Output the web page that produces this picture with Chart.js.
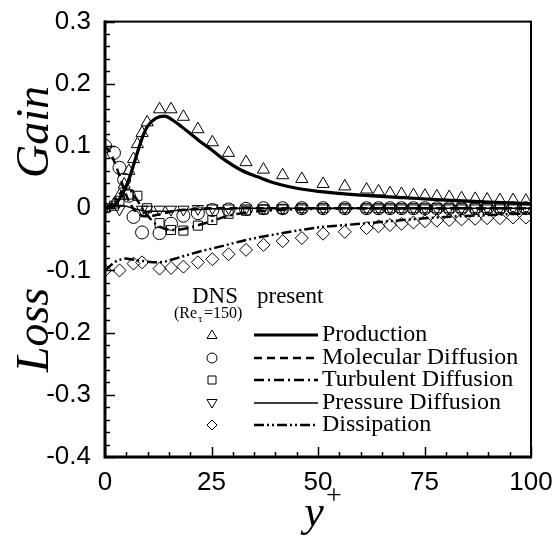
<!DOCTYPE html>
<html>
<head>
<meta charset="utf-8">
<script src="https://cdn.jsdelivr.net/npm/chart.js@4.4.1/dist/chart.umd.min.js"></script>
<style>
  html, body { margin: 0; padding: 0; background: #fff; }
  #wrap { width: 557px; height: 554px; }
</style>
</head>
<body>
<div id="wrap"><canvas id="budgetChart" width="557" height="554"></canvas></div>
<script>
// model curves (present), sampled in y+
const modelYplus = [0, 1, 2, 3, 4, 5, 6, 7, 8, 9, 10, 12, 14, 16, 18, 20, 22, 25, 28, 32, 36, 40, 45, 50, 60, 70, 80, 90, 100];
const productionModel = [0, 0.001, 0.004, 0.011, 0.022, 0.036, 0.054, 0.076, 0.098, 0.118, 0.132, 0.145, 0.148, 0.141, 0.131, 0.12, 0.109, 0.094, 0.078, 0.061, 0.05, 0.04, 0.032, 0.027, 0.021, 0.017, 0.013, 0.01, 0.007];
const molecularModel = [0.1, 0.092, 0.078, 0.06, 0.04, 0.021, 0.006, -0.004, -0.01, -0.013, -0.013, -0.011, -0.008, -0.005, -0.003, -0.002, -0.001, 0, 0, 0, 0, 0, 0, 0, 0, 0, 0, 0, 0];
const turbulentModel = [0, 0.003, 0.01, 0.019, 0.027, 0.031, 0.028, 0.019, 0.008, -0.003, -0.012, -0.026, -0.033, -0.035, -0.034, -0.031, -0.027, -0.021, -0.014, -0.008, -0.005, -0.003, -0.002, -0.001, 0, 0, 0, 0, 0];
const pressureModel = [0, 0.001, 0.003, 0.004, 0.004, 0.003, 0.001, -0.001, -0.003, -0.004, -0.005, -0.005, -0.005, -0.004, -0.003, -0.002, -0.002, -0.001, -0.001, 0, 0, 0, 0, 0, 0, 0, 0, 0, 0];
const dissipationModel = [-0.1, -0.094, -0.088, -0.084, -0.082, -0.081, -0.082, -0.083, -0.084, -0.085, -0.086, -0.087, -0.086, -0.082, -0.078, -0.074, -0.07, -0.065, -0.06, -0.053, -0.047, -0.042, -0.036, -0.031, -0.025, -0.019, -0.014, -0.011, -0.008];

// DNS (Re_tau=150) symbols
const dnsYplus = [0, 1.0, 2.1, 3.4, 4.5, 5.6, 6.7, 7.6, 8.7, 9.9, 12.8, 15.5, 18.4, 21.8, 25.2, 29.0, 33.1, 37.2, 41.7, 46.2, 51.2, 56.3, 61.4, 64.2, 66.9, 69.6, 72.4, 75.1, 77.9, 80.8, 83.7, 86.9, 89.7, 92.7, 95.8, 98.8];
const productionDns = [0, null, 0.006, 0.02, 0.038, 0.06, 0.079, 0.103, 0.121, 0.138, 0.159, 0.159, 0.147, 0.127, 0.106, 0.089, 0.074, 0.062, 0.053, 0.047, 0.039, 0.035, 0.030, 0.027, 0.024, 0.023, 0.021, 0.020, 0.019, 0.018, 0.016, 0.015, 0.014, 0.013, 0.013, 0.012];
const molecularDns = [0.1, null, 0.089, 0.065, 0.046, 0.02, -0.014, null, -0.039, null, -0.04, -0.025, -0.012, -0.008, -0.003, -0.002, -0.001, 0, 0, 0, 0, 0, 0, 0, 0, 0, 0, 0, 0, 0, 0, 0, 0, 0, 0, 0];
const turbulentDns = [0, null, 0.004, 0.012, null, 0.022, null, 0.02, null, 0.0, -0.024, -0.035, -0.036, -0.028, -0.019, -0.009, -0.004, -0.002, -0.001, 0, 0, 0, 0, 0, 0, 0, 0, 0, 0, 0, 0, 0, 0, 0, 0, 0];
const pressureDns = [0, null, null, -0.002, null, null, null, null, -0.002, -0.002, -0.002, -0.002, -0.002, -0.001, 0, 0, 0, 0, 0, 0, 0, 0, 0, 0, 0, 0, 0, 0, 0, 0, 0, 0, 0, 0, 0, 0];
const dissipationDns = [-0.1, null, null, -0.1, null, null, -0.089, null, -0.087, null, -0.097, -0.096, -0.094, -0.087, -0.082, -0.074, -0.067, -0.059, -0.053, -0.048, -0.041, -0.038, -0.032, -0.029, -0.027, -0.025, -0.023, -0.021, -0.020, -0.019, -0.018, -0.017, -0.016, -0.016, -0.015, -0.015];

const seriesNames = ["Production", "Molecular Diffusion", "Turbulent Diffusion", "Pressure Diffusion", "Dissipation"];
const xTicks = [0, 25, 50, 75, 100];
const yTicks = [-0.4, -0.3, -0.2, -0.1, 0, 0.1, 0.2, 0.3];

const serif = "'Liberation Serif', 'Times New Roman', serif";
const sans = "'Liberation Sans', Arial, sans-serif";

function pairs(xs, ys) {
  return xs.map((x, i) => ({ x: x, y: ys[i] })).filter(p => p.y !== null);
}

// line styles and symbols for each term
const lineStyles = [
  { width: 3.2, dash: [] },
  { width: 2.5, dash: [8, 5] },
  { width: 2.5, dash: [10, 4, 2, 4] },
  { width: 1.5, dash: [] },
  { width: 2.5, dash: [10, 3, 2, 3, 2, 3] },
];
const symbols = [
  { style: "triangle", rot: 0, r: 7 },
  { style: "circle", rot: 0, r: 6.5 },
  { style: "rect", rot: 0, r: 6.4 },
  { style: "triangle", rot: 180, r: 6.5 },
  { style: "rectRot", rot: 0, r: 6.5 },
];

const models = [productionModel, molecularModel, turbulentModel, pressureModel, dissipationModel];
const dns = [productionDns, molecularDns, turbulentDns, pressureDns, dissipationDns];

const datasets = [];
models.forEach((vals, i) => {
  datasets.push({
    type: "line",
    label: seriesNames[i],
    data: pairs(modelYplus, vals),
    borderColor: "#000",
    borderWidth: lineStyles[i].width,
    borderDash: lineStyles[i].dash,
    pointRadius: 0,
    cubicInterpolationMode: "monotone",
    fill: false,
  });
});
dns.forEach((vals, i) => {
  datasets.push({
    type: "scatter",
    label: "DNS " + seriesNames[i],
    data: pairs(dnsYplus, vals),
    pointStyle: symbols[i].style,
    rotation: symbols[i].rot,
    pointRadius: symbols[i].r,
    pointBorderColor: "#000",
    pointBackgroundColor: "rgba(0,0,0,0)",
    pointBorderWidth: 1,
    showLine: false,
  });
});

// inward ticks, frame, titles and the legend block
const framePlugin = {
  id: "frame",
  afterDraw(chart) {
    const ctx = chart.ctx;
    const xs = chart.scales.x, ys = chart.scales.y;
    const { left, right, top, bottom } = chart.chartArea;
    ctx.save();
    ctx.strokeStyle = "#000";
    ctx.lineWidth = 1.5;
    ctx.beginPath();
    for (let v = 0; v <= 100; v += 5) {
      const px = Math.round(xs.getPixelForValue(v)) + 0.5;
      const len = v % 25 === 0 ? 10 : 5;
      ctx.moveTo(px, bottom);
      ctx.lineTo(px, bottom - len);
    }
    for (let i = -20; i <= 15; i++) {
      const py = Math.round(ys.getPixelForValue(i * 0.02)) + 0.5;
      const len = i % 5 === 0 ? 10 : 5;
      ctx.moveTo(left, py);
      ctx.lineTo(left + len, py);
    }
    ctx.stroke();
    ctx.lineWidth = 2;
    ctx.strokeRect(left, top, right - left, bottom - top);
    ctx.lineWidth = 3;
    ctx.beginPath();
    ctx.moveTo(left, top - 1);
    ctx.lineTo(left, bottom);
    ctx.lineTo(right + 1, bottom);
    ctx.stroke();

    // axis titles
    ctx.fillStyle = "#000";
    ctx.textAlign = "center";
    ctx.textBaseline = "alphabetic";
    ctx.font = "italic 44px " + serif;
    ctx.fillText("y", 314, 526);
    ctx.font = "28px " + serif;
    ctx.fillText("+", 334, 504);
    ctx.font = "italic 46px " + serif;
    ctx.save();
    ctx.translate(48, 132);
    ctx.rotate(-Math.PI / 2);
    ctx.fillText("Gain", 0, 0);
    ctx.restore();
    ctx.save();
    ctx.translate(48, 330);
    ctx.rotate(-Math.PI / 2);
    ctx.fillText("Loss", 0, 0);
    ctx.restore();

    // legend
    ctx.font = "23px " + serif;
    ctx.textAlign = "center";
    ctx.fillText("DNS", 215, 303);
    ctx.textAlign = "left";
    ctx.fillText("present", 257, 303);
    ctx.font = "16px " + serif;
    ctx.fillText("(Re", 174, 318);
    ctx.font = "11px " + serif;
    ctx.fillText("\u03c4", 198, 322);
    ctx.font = "16px " + serif;
    ctx.fillText("=150)", 204, 318);

    const rows = [335, 358, 380, 403, 425];
    ctx.font = "24px " + serif;
    seriesNames.forEach((name, i) => {
      const y = rows[i];
      ctx.save();
      ctx.lineWidth = 1;
      ctx.setLineDash([]);
      ctx.beginPath();
      const mx = 212, r = 5;
      if (i === 0) {
        ctx.moveTo(mx, y - r); ctx.lineTo(mx + r, y + r * 0.7); ctx.lineTo(mx - r, y + r * 0.7); ctx.closePath();
      } else if (i === 1) {
        ctx.arc(mx, y, r, 0, Math.PI * 2);
      } else if (i === 2) {
        ctx.rect(mx - 4, y - 4, 8, 8);
      } else if (i === 3) {
        ctx.moveTo(mx, y + r); ctx.lineTo(mx + r, y - r * 0.7); ctx.lineTo(mx - r, y - r * 0.7); ctx.closePath();
      } else {
        ctx.moveTo(mx, y - r); ctx.lineTo(mx + r, y); ctx.lineTo(mx, y + r); ctx.lineTo(mx - r, y); ctx.closePath();
      }
      ctx.stroke();
      ctx.lineWidth = lineStyles[i].width;
      ctx.setLineDash(lineStyles[i].dash);
      ctx.beginPath();
      ctx.moveTo(254, y);
      ctx.lineTo(318, y);
      ctx.stroke();
      ctx.restore();
      ctx.textBaseline = "middle";
      ctx.fillText(name, 322, y);
    });
    ctx.restore();
  },
};

const chart = new Chart(document.getElementById("budgetChart").getContext("2d"), {
  data: { datasets: datasets },
  options: {
    responsive: false,
    animation: false,
    layout: { padding: { top: 18, right: 26, left: 0, bottom: 0 } },
    plugins: { legend: { display: false }, tooltip: { enabled: false } },
    scales: {
      x: {
        type: "linear",
        min: 0,
        max: 100,
        afterFit: s => { s.height = 97; },
        afterBuildTicks: s => { s.ticks = xTicks.map(v => ({ value: v })); },
        grid: { display: false },
        border: { display: false },
        ticks: { color: "#000", font: { family: sans, size: 26 }, padding: 2, maxRotation: 0 },
      },
      y: {
        type: "linear",
        min: -0.4,
        max: 0.3,
        afterFit: s => { s.width = 105; },
        afterBuildTicks: s => { s.ticks = yTicks.map(v => ({ value: v })); },
        grid: { display: false },
        border: { display: false },
        ticks: {
          color: "#000",
          font: { family: sans, size: 26 },
          padding: 6,
          callback: v => (Math.abs(v) < 1e-9 ? "0" : v.toFixed(1)),
        },
      },
    },
  },
  plugins: [framePlugin],
});
</script>
</body>
</html>
